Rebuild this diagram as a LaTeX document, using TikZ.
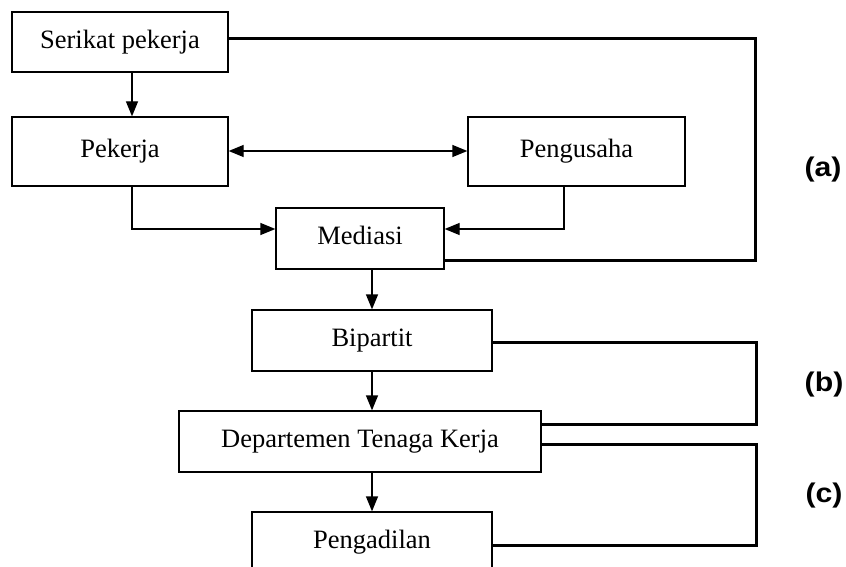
\documentclass[tikz,border=0pt]{standalone}
\usepackage{fontspec}
\setmainfont{Liberation Serif}
\newfontfamily\labfont{Liberation Sans}
\usetikzlibrary{arrows.meta}
\begin{document}
\begin{tikzpicture}[x=1pt,y=-1pt,
 box/.style={draw,line width=1.3pt,inner sep=0pt,text height=18pt,text depth=5.4pt,font=\fontsize{26.5}{30}\selectfont},
 arr/.style={line width=1.3pt,-{Triangle[length=15pt,width=12pt]}},
 darr/.style={line width=1.3pt,{Triangle[length=15pt,width=12pt]}-{Triangle[length=15pt,width=12pt]}},
 boldline/.style={line width=3pt},
 lab/.style={font=\labfont\bfseries\fontsize{27}{30}\selectfont}]
\useasboundingbox (0,0) rectangle (846,567);
\clip (0,0) rectangle (846,567);
\node[box,minimum width=216pt,minimum height=60pt] (ser) at (120,42) {Serikat pekerja};
\node[box,minimum width=216pt,minimum height=69pt] (pek) at (120,151.5) {Pekerja};
\node[box,minimum width=217pt,minimum height=69pt] (peng) at (576.5,151.5) {Pengusaha};
\node[box,minimum width=168pt,minimum height=61pt] (med) at (360,238.5) {Mediasi};
\node[box,minimum width=240pt,minimum height=61pt] (bip) at (372,340.5) {Bipartit};
\node[box,minimum width=362pt,minimum height=61pt] (dep) at (360,441.5) {Departemen Tenaga Kerja};
\node[box,minimum width=240pt,minimum height=61pt] (pgd) at (372,542.5) {Pengadilan};
\coordinate (d1) at (0,151);
\coordinate (k1) at (132,229);
\coordinate (k2) at (564,229);
\coordinate (a1) at (755,39);
\coordinate (a2) at (755,260);
\coordinate (b1) at (756,342);
\coordinate (b2) at (756,424);
\coordinate (c1) at (756,444);
\coordinate (c2) at (756,545);
\draw[arr] (ser.south -| k1) -- (pek.north -| k1);
\draw[darr] (pek.east |- d1) -- (peng.west |- d1);
\draw[arr] (pek.south -| k1) -- (k1) -- (k1 -| med.west);
\draw[arr] (peng.south -| k2) -- (k2) -- (k2 -| med.east);
\draw[arr] (med.south -| bip.north) -- (bip.north);
\draw[arr] (bip.south) -- (dep.north -| bip.south);
\draw[arr] (dep.south -| pgd.north) -- (pgd.north);
\draw[boldline] (a1 -| ser.east) -- (a1) -- (a2) -- (a2 -| med.east);
\draw[boldline] (b1 -| bip.east) -- (b1) -- (b2) -- (b2 -| dep.east);
\draw[boldline] (c1 -| dep.east) -- (c1) -- (c2) -- (c2 -| pgd.east);
\node[lab] (la) at (823,170) {\scalebox{1.12}[1]{(a)}};
\node[lab] (lb) at (824,385) {\scalebox{1.12}[1]{(b)}};
\node[lab] (lc) at (824,496) {\scalebox{1.12}[1]{(c)}};
\end{tikzpicture}
\end{document}
